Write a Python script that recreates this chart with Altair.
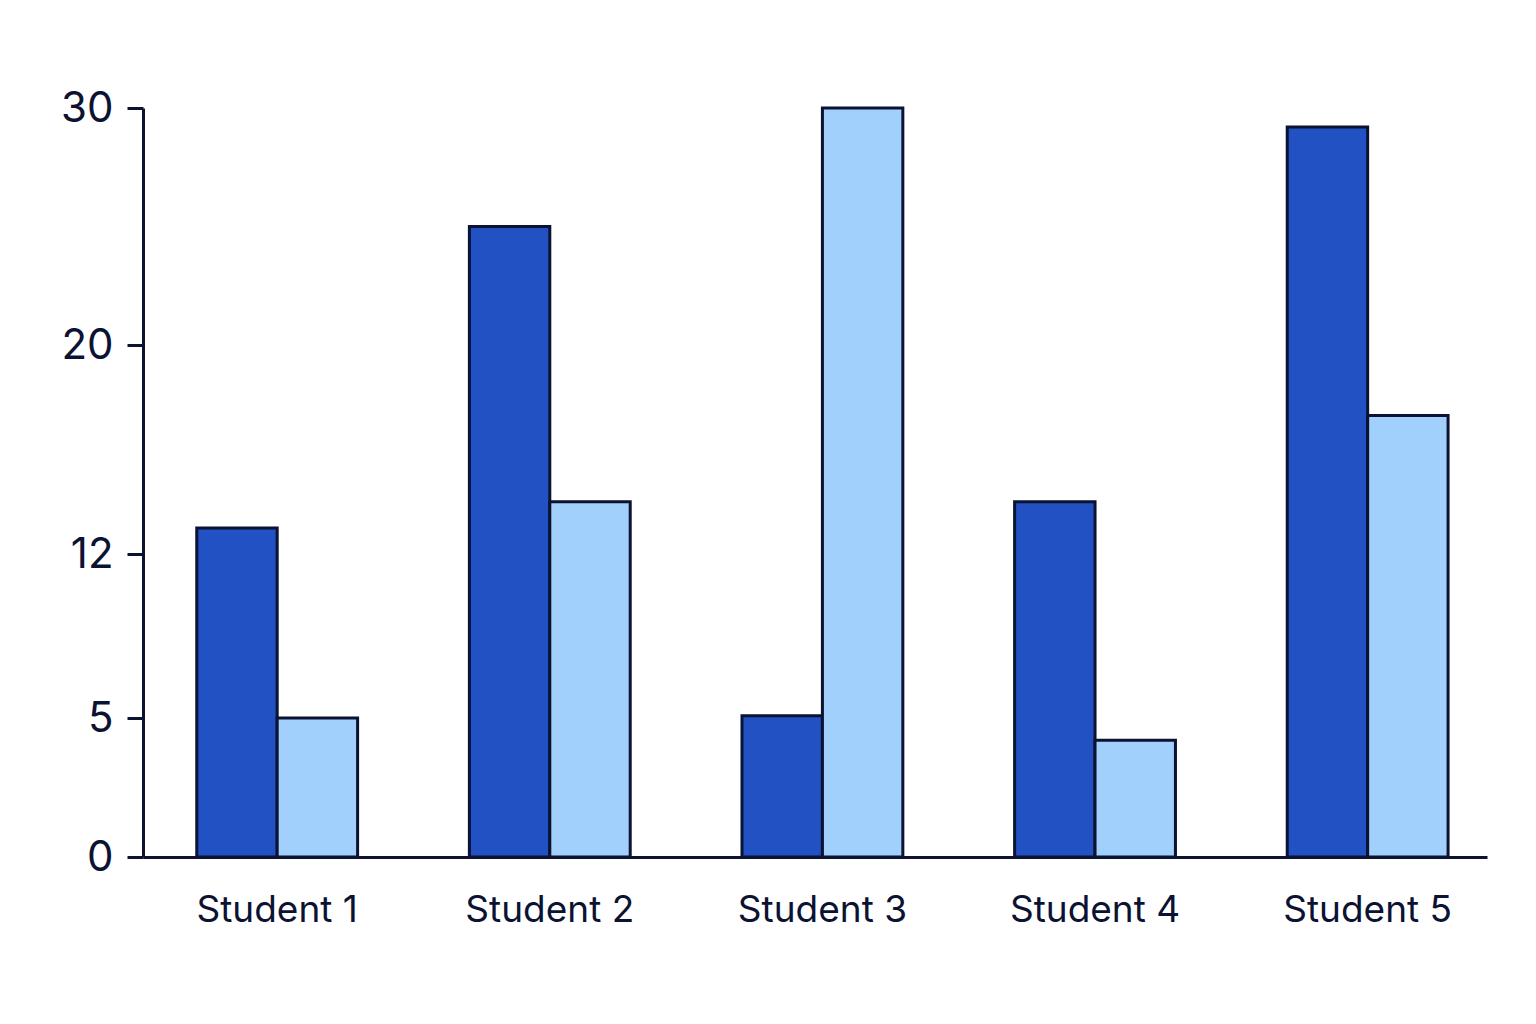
import altair as alt
import pandas as pd

# Data

students = ['Student 1', 'Student 2', 'Student 3', 'Student 4', 'Student 5']
series = ['Series A', 'Series B']
series_a = [13, 25, 5.1, 14, 29.2]
series_b = [5, 14, 30, 4.2, 17.3]
y_ticks = [0, 5, 12, 20, 30]

# Style

NAVY = '#0b1232'
DARK = '#2151c2'
LIGHT = '#a0d0fb'
FONT = 'Inter'

rows = []
for name, values in zip(series, [series_a, series_b]):
  for student, value in zip(students, values):
    rows.append({'student': student, 'series': name, 'value': value})
data = pd.DataFrame(rows)

WIDTH = 1344
HEIGHT = 749

chart = alt.Chart(data).mark_bar(
  stroke=NAVY, strokeWidth=3
).encode(
  x=alt.X(
    'student:N', title=None, sort=students,
    scale=alt.Scale(paddingInner=0.41, paddingOuter=0.17, align=0.58),
    axis=alt.Axis(
      labelAngle=0, ticks=False, labelPadding=35, labelFontSize=37,
      labelFont=FONT, labelColor=NAVY, domainColor=NAVY, domainWidth=3
    )
  ),
  xOffset=alt.XOffset('series:N', sort=series, scale=alt.Scale(paddingInner=0, paddingOuter=0)),
  y=alt.Y(
    'value:Q', title=None,
    # the reference axis is not evenly spaced, so map each tick to its place
    scale=alt.Scale(domain=y_ticks, range=[HEIGHT, 610, 446, 237, 0]),
    axis=alt.Axis(
      values=y_ticks, grid=False, tickSize=16, tickWidth=3, tickColor=NAVY,
      labelPadding=14, labelFontSize=42, labelFont=FONT, labelColor=NAVY,
      domainColor=NAVY, domainWidth=3
    )
  ),
  fill=alt.Fill(
    'series:N', sort=series, legend=None,
    scale=alt.Scale(domain=series, range=[DARK, LIGHT])
  )
).properties(
  width=WIDTH, height=HEIGHT,
  background='white',
  autosize=alt.AutoSizeParams(type='none'),
  padding={'left': 135, 'top': 100, 'right': 41, 'bottom': 150}
).configure_view(
  stroke='transparent', strokeWidth=0
)

chart.save('out.html', embed_options={'renderer': 'svg', 'actions': False})
